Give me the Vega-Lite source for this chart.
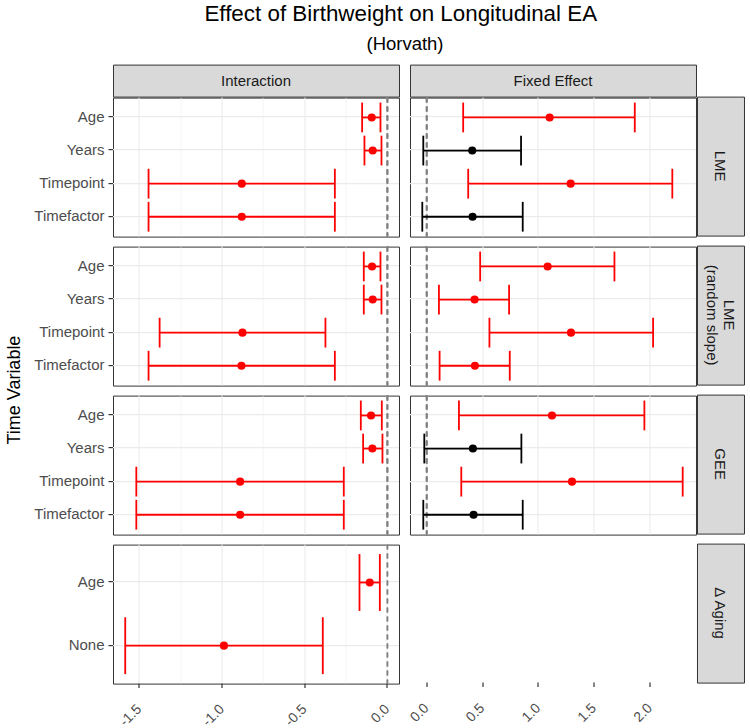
{
  "$schema": "https://vega.github.io/schema/vega-lite/v6.json",
  "padding": {"left": 0, "top": 2.6, "right": 0, "bottom": 0},
  "background": "white",
  "datasets": {
    "effects": [
      {"model": "LME", "type": "Interaction", "var": "Age", "est": -0.095, "lo": -0.153, "hi": -0.042, "sig": "yes"},
      {"model": "LME", "type": "Interaction", "var": "Years", "est": -0.089, "lo": -0.139, "hi": -0.036, "sig": "yes"},
      {"model": "LME", "type": "Interaction", "var": "Timepoint", "est": -0.881, "lo": -1.445, "hi": -0.318, "sig": "yes"},
      {"model": "LME", "type": "Interaction", "var": "Timefactor", "est": -0.881, "lo": -1.445, "hi": -0.318, "sig": "yes"},
      {"model": "LME (random slope)", "type": "Interaction", "var": "Age", "est": -0.093, "lo": -0.143, "hi": -0.042, "sig": "yes"},
      {"model": "LME (random slope)", "type": "Interaction", "var": "Years", "est": -0.089, "lo": -0.143, "hi": -0.036, "sig": "yes"},
      {"model": "LME (random slope)", "type": "Interaction", "var": "Timepoint", "est": -0.877, "lo": -1.378, "hi": -0.375, "sig": "yes"},
      {"model": "LME (random slope)", "type": "Interaction", "var": "Timefactor", "est": -0.883, "lo": -1.445, "hi": -0.318, "sig": "yes"},
      {"model": "GEE", "type": "Interaction", "var": "Age", "est": -0.099, "lo": -0.161, "hi": -0.034, "sig": "yes"},
      {"model": "GEE", "type": "Interaction", "var": "Years", "est": -0.091, "lo": -0.147, "hi": -0.030, "sig": "yes"},
      {"model": "GEE", "type": "Interaction", "var": "Timepoint", "est": -0.891, "lo": -1.519, "hi": -0.264, "sig": "yes"},
      {"model": "GEE", "type": "Interaction", "var": "Timefactor", "est": -0.891, "lo": -1.519, "hi": -0.264, "sig": "yes"},
      {"model": "ΔAging", "type": "Interaction", "var": "Age", "est": -0.107, "lo": -0.169, "hi": -0.046, "sig": "yes"},
      {"model": "ΔAging", "type": "Interaction", "var": "None", "est": -0.989, "lo": -1.586, "hi": -0.391, "sig": "yes"},
      {"model": "LME", "type": "Fixed Effect", "var": "Age", "est": 1.101, "lo": 0.327, "hi": 1.863, "sig": "yes"},
      {"model": "LME", "type": "Fixed Effect", "var": "Years", "est": 0.408, "lo": -0.030, "hi": 0.845, "sig": "no"},
      {"model": "LME", "type": "Fixed Effect", "var": "Timepoint", "est": 1.289, "lo": 0.372, "hi": 2.199, "sig": "yes"},
      {"model": "LME", "type": "Fixed Effect", "var": "Timefactor", "est": 0.411, "lo": -0.039, "hi": 0.860, "sig": "no"},
      {"model": "LME (random slope)", "type": "Fixed Effect", "var": "Age", "est": 1.083, "lo": 0.479, "hi": 1.681, "sig": "yes"},
      {"model": "LME (random slope)", "type": "Fixed Effect", "var": "Years", "est": 0.429, "lo": 0.110, "hi": 0.738, "sig": "yes"},
      {"model": "LME (random slope)", "type": "Fixed Effect", "var": "Timepoint", "est": 1.292, "lo": 0.562, "hi": 2.027, "sig": "yes"},
      {"model": "LME (random slope)", "type": "Fixed Effect", "var": "Timefactor", "est": 0.432, "lo": 0.116, "hi": 0.744, "sig": "yes"},
      {"model": "GEE", "type": "Fixed Effect", "var": "Age", "est": 1.122, "lo": 0.289, "hi": 1.949, "sig": "yes"},
      {"model": "GEE", "type": "Fixed Effect", "var": "Years", "est": 0.414, "lo": -0.021, "hi": 0.848, "sig": "no"},
      {"model": "GEE", "type": "Fixed Effect", "var": "Timepoint", "est": 1.301, "lo": 0.310, "hi": 2.292, "sig": "yes"},
      {"model": "GEE", "type": "Fixed Effect", "var": "Timefactor", "est": 0.420, "lo": -0.030, "hi": 0.860, "sig": "no"}
    ],
    "labels": [
      {"role": "col", "key": "Interaction", "label": "Interaction"},
      {"role": "col", "key": "Fixed Effect", "label": "Fixed Effect"},
      {"role": "row", "key": "LME", "label": "LME"},
      {"role": "row", "key": "LME (random slope)", "label": "LME\n(random slope)"},
      {"role": "row", "key": "GEE", "label": "GEE"},
      {"role": "row", "key": "ΔAging", "label": "Δ Aging"},
      {"role": "ytitle", "key": "y", "label": "Time Variable"}
    ]
  },
  "data": {"name": "effects"},
  "title": {
    "text": "Effect of Birthweight on Longitudinal EA",
    "fontSize": 22.4,
    "fontWeight": "normal",
    "color": "#000000",
    "anchor": "middle",
    "dx": 28.5,
    "offset": 9
  },
  "spacing": -2,
  "hconcat": [
    {
      "width": 35, "height": 618,
      "view": {"stroke": null},
      "data": {"name": "labels"},
      "transform": [{"filter": "datum.role === 'ytitle'"}],
      "mark": {"type": "text", "angle": 270, "fontSize": 18, "color": "#000000", "dx": -16.5, "dy": -2.5},
      "encoding": {"text": {"field": "label", "type": "nominal"}}
    },
    {
      "title": {"text": "(Horvath)", "fontSize": 18.5, "fontWeight": "normal", "color": "#000000", "anchor": "middle", "frame": "group", "dx": 292, "offset": 11},
      "spacing": 7,
      "hconcat": [
        {
          "spacing": 6,
          "vconcat": [
            {
              "spacing": -2,
              "vconcat": [
                {
                  "width": 286, "height": 32,
                  "view": {"fill": "#d9d9d9", "stroke": "#333333", "strokeWidth": 1},
                  "data": {"name": "labels"},
                  "transform": [{"filter": "datum.role === 'col' && datum.key === 'Interaction'"}],
                  "mark": {"type": "text", "fontSize": 15, "color": "#1a1a1a"},
                  "encoding": {"text": {"field": "label", "type": "nominal"}}
                },
                {
                  "width": 286, "height": 139,
                  "transform": [{"filter": "datum.model === 'LME' && datum.type === 'Interaction'"}],
                  "layer": [
                    {"mark": {"type": "rule", "color": "#7f7f7f", "strokeDash": [5, 4], "strokeWidth": 1.5},
                     "encoding": {"x": {"datum": 0, "type": "quantitative", "scale": {"domain": [-1.66, 0.07], "nice": false, "zero": false},
                       "axis": {"title": null, "values": [-1.5, -1.25, -1, -0.75, -0.5, -0.25, 0], "labels": false, "ticks": false, "domain": false, "grid": true, "gridColor": "#ebebeb", "gridWidth": {"condition": {"test": "abs(datum.value * 2 - round(datum.value * 2)) < 0.001", "value": 1.1}, "value": 0.55}}}}},
                    {"mark": {"type": "rule", "strokeWidth": 1.8},
                     "encoding": {"x": {"field": "lo", "type": "quantitative", "title": null, "scale": {"domain": [-1.66, 0.07], "nice": false, "zero": false}}, "x2": {"field": "hi"},
                       "y": {"field": "var", "type": "nominal", "title": null, "sort": ["Age", "Years", "Timepoint", "Timefactor"], "scale": {"type": "band", "paddingInner": 0, "paddingOuter": 0.1},
                         "axis": {"title": null, "domain": false, "ticks": true, "tickSize": 4.5, "tickWidth": 1.2, "tickColor": "#333333", "labelPadding": 4, "labelFontSize": 15, "labelColor": "#4d4d4d", "grid": true, "gridColor": "#ebebeb", "gridWidth": 1.1, "tickBand": "center"}},
                       "color": {"field": "sig", "type": "nominal", "scale": {"domain": ["no", "yes"], "range": ["#000000", "#ff0000"]}, "legend": null}}},
                    {"mark": {"type": "rule", "strokeWidth": 1.8},
                     "encoding": {"x": {"field": "lo", "type": "quantitative", "title": null, "scale": {"domain": [-1.66, 0.07], "nice": false, "zero": false}},
                       "y": {"field": "var", "type": "nominal", "title": null, "bandPosition": 0.05, "sort": ["Age", "Years", "Timepoint", "Timefactor"], "scale": {"type": "band", "paddingInner": 0, "paddingOuter": 0.1}},
                       "y2": {"field": "var", "bandPosition": 0.95},
                       "color": {"field": "sig", "type": "nominal", "scale": {"domain": ["no", "yes"], "range": ["#000000", "#ff0000"]}, "legend": null}}},
                    {"mark": {"type": "rule", "strokeWidth": 1.8},
                     "encoding": {"x": {"field": "hi", "type": "quantitative", "title": null, "scale": {"domain": [-1.66, 0.07], "nice": false, "zero": false}},
                       "y": {"field": "var", "type": "nominal", "title": null, "bandPosition": 0.05, "sort": ["Age", "Years", "Timepoint", "Timefactor"], "scale": {"type": "band", "paddingInner": 0, "paddingOuter": 0.1}},
                       "y2": {"field": "var", "bandPosition": 0.95},
                       "color": {"field": "sig", "type": "nominal", "scale": {"domain": ["no", "yes"], "range": ["#000000", "#ff0000"]}, "legend": null}}},
                    {"mark": {"type": "circle", "size": 66, "opacity": 1},
                     "encoding": {"x": {"field": "est", "type": "quantitative", "title": null, "scale": {"domain": [-1.66, 0.07], "nice": false, "zero": false}},
                       "y": {"field": "var", "type": "nominal", "title": null, "sort": ["Age", "Years", "Timepoint", "Timefactor"], "scale": {"type": "band", "paddingInner": 0, "paddingOuter": 0.1}},
                       "color": {"field": "sig", "type": "nominal", "scale": {"domain": ["no", "yes"], "range": ["#000000", "#ff0000"]}, "legend": null}}}
                  ]
                }
              ]
            },
            {
              "width": 286, "height": 139,
              "transform": [{"filter": "datum.model === 'LME (random slope)' && datum.type === 'Interaction'"}],
              "layer": [
                {"mark": {"type": "rule", "color": "#7f7f7f", "strokeDash": [5, 4], "strokeWidth": 1.5},
                 "encoding": {"x": {"datum": 0, "type": "quantitative", "scale": {"domain": [-1.66, 0.07], "nice": false, "zero": false},
                   "axis": {"title": null, "values": [-1.5, -1.25, -1, -0.75, -0.5, -0.25, 0], "labels": false, "ticks": false, "domain": false, "grid": true, "gridColor": "#ebebeb", "gridWidth": {"condition": {"test": "abs(datum.value * 2 - round(datum.value * 2)) < 0.001", "value": 1.1}, "value": 0.55}}}}},
                {"mark": {"type": "rule", "strokeWidth": 1.8},
                 "encoding": {"x": {"field": "lo", "type": "quantitative", "title": null, "scale": {"domain": [-1.66, 0.07], "nice": false, "zero": false}}, "x2": {"field": "hi"},
                   "y": {"field": "var", "type": "nominal", "title": null, "sort": ["Age", "Years", "Timepoint", "Timefactor"], "scale": {"type": "band", "paddingInner": 0, "paddingOuter": 0.1},
                     "axis": {"title": null, "domain": false, "ticks": true, "tickSize": 4.5, "tickWidth": 1.2, "tickColor": "#333333", "labelPadding": 4, "labelFontSize": 15, "labelColor": "#4d4d4d", "grid": true, "gridColor": "#ebebeb", "gridWidth": 1.1, "tickBand": "center"}},
                   "color": {"field": "sig", "type": "nominal", "scale": {"domain": ["no", "yes"], "range": ["#000000", "#ff0000"]}, "legend": null}}},
                {"mark": {"type": "rule", "strokeWidth": 1.8},
                 "encoding": {"x": {"field": "lo", "type": "quantitative", "title": null, "scale": {"domain": [-1.66, 0.07], "nice": false, "zero": false}},
                   "y": {"field": "var", "type": "nominal", "title": null, "bandPosition": 0.05, "sort": ["Age", "Years", "Timepoint", "Timefactor"], "scale": {"type": "band", "paddingInner": 0, "paddingOuter": 0.1}},
                   "y2": {"field": "var", "bandPosition": 0.95},
                   "color": {"field": "sig", "type": "nominal", "scale": {"domain": ["no", "yes"], "range": ["#000000", "#ff0000"]}, "legend": null}}},
                {"mark": {"type": "rule", "strokeWidth": 1.8},
                 "encoding": {"x": {"field": "hi", "type": "quantitative", "title": null, "scale": {"domain": [-1.66, 0.07], "nice": false, "zero": false}},
                   "y": {"field": "var", "type": "nominal", "title": null, "bandPosition": 0.05, "sort": ["Age", "Years", "Timepoint", "Timefactor"], "scale": {"type": "band", "paddingInner": 0, "paddingOuter": 0.1}},
                   "y2": {"field": "var", "bandPosition": 0.95},
                   "color": {"field": "sig", "type": "nominal", "scale": {"domain": ["no", "yes"], "range": ["#000000", "#ff0000"]}, "legend": null}}},
                {"mark": {"type": "circle", "size": 66, "opacity": 1},
                 "encoding": {"x": {"field": "est", "type": "quantitative", "title": null, "scale": {"domain": [-1.66, 0.07], "nice": false, "zero": false}},
                   "y": {"field": "var", "type": "nominal", "title": null, "sort": ["Age", "Years", "Timepoint", "Timefactor"], "scale": {"type": "band", "paddingInner": 0, "paddingOuter": 0.1}},
                   "color": {"field": "sig", "type": "nominal", "scale": {"domain": ["no", "yes"], "range": ["#000000", "#ff0000"]}, "legend": null}}}
              ]
            },
            {
              "width": 286, "height": 139,
              "transform": [{"filter": "datum.model === 'GEE' && datum.type === 'Interaction'"}],
              "layer": [
                {"mark": {"type": "rule", "color": "#7f7f7f", "strokeDash": [5, 4], "strokeWidth": 1.5},
                 "encoding": {"x": {"datum": 0, "type": "quantitative", "scale": {"domain": [-1.66, 0.07], "nice": false, "zero": false},
                   "axis": {"title": null, "values": [-1.5, -1.25, -1, -0.75, -0.5, -0.25, 0], "labels": false, "ticks": false, "domain": false, "grid": true, "gridColor": "#ebebeb", "gridWidth": {"condition": {"test": "abs(datum.value * 2 - round(datum.value * 2)) < 0.001", "value": 1.1}, "value": 0.55}}}}},
                {"mark": {"type": "rule", "strokeWidth": 1.8},
                 "encoding": {"x": {"field": "lo", "type": "quantitative", "title": null, "scale": {"domain": [-1.66, 0.07], "nice": false, "zero": false}}, "x2": {"field": "hi"},
                   "y": {"field": "var", "type": "nominal", "title": null, "sort": ["Age", "Years", "Timepoint", "Timefactor"], "scale": {"type": "band", "paddingInner": 0, "paddingOuter": 0.1},
                     "axis": {"title": null, "domain": false, "ticks": true, "tickSize": 4.5, "tickWidth": 1.2, "tickColor": "#333333", "labelPadding": 4, "labelFontSize": 15, "labelColor": "#4d4d4d", "grid": true, "gridColor": "#ebebeb", "gridWidth": 1.1, "tickBand": "center"}},
                   "color": {"field": "sig", "type": "nominal", "scale": {"domain": ["no", "yes"], "range": ["#000000", "#ff0000"]}, "legend": null}}},
                {"mark": {"type": "rule", "strokeWidth": 1.8},
                 "encoding": {"x": {"field": "lo", "type": "quantitative", "title": null, "scale": {"domain": [-1.66, 0.07], "nice": false, "zero": false}},
                   "y": {"field": "var", "type": "nominal", "title": null, "bandPosition": 0.05, "sort": ["Age", "Years", "Timepoint", "Timefactor"], "scale": {"type": "band", "paddingInner": 0, "paddingOuter": 0.1}},
                   "y2": {"field": "var", "bandPosition": 0.95},
                   "color": {"field": "sig", "type": "nominal", "scale": {"domain": ["no", "yes"], "range": ["#000000", "#ff0000"]}, "legend": null}}},
                {"mark": {"type": "rule", "strokeWidth": 1.8},
                 "encoding": {"x": {"field": "hi", "type": "quantitative", "title": null, "scale": {"domain": [-1.66, 0.07], "nice": false, "zero": false}},
                   "y": {"field": "var", "type": "nominal", "title": null, "bandPosition": 0.05, "sort": ["Age", "Years", "Timepoint", "Timefactor"], "scale": {"type": "band", "paddingInner": 0, "paddingOuter": 0.1}},
                   "y2": {"field": "var", "bandPosition": 0.95},
                   "color": {"field": "sig", "type": "nominal", "scale": {"domain": ["no", "yes"], "range": ["#000000", "#ff0000"]}, "legend": null}}},
                {"mark": {"type": "circle", "size": 66, "opacity": 1},
                 "encoding": {"x": {"field": "est", "type": "quantitative", "title": null, "scale": {"domain": [-1.66, 0.07], "nice": false, "zero": false}},
                   "y": {"field": "var", "type": "nominal", "title": null, "sort": ["Age", "Years", "Timepoint", "Timefactor"], "scale": {"type": "band", "paddingInner": 0, "paddingOuter": 0.1}},
                   "color": {"field": "sig", "type": "nominal", "scale": {"domain": ["no", "yes"], "range": ["#000000", "#ff0000"]}, "legend": null}}}
              ]
            },
            {
              "width": 286, "height": 139,
              "transform": [{"filter": "datum.model === 'ΔAging' && datum.type === 'Interaction'"}],
              "layer": [
                {"mark": {"type": "rule", "color": "#7f7f7f", "strokeDash": [5, 4], "strokeWidth": 1.5},
                 "encoding": {"x": {"datum": 0, "type": "quantitative", "scale": {"domain": [-1.66, 0.07], "nice": false, "zero": false},
                   "axis": {"title": null, "values": [-1.5, -1.25, -1, -0.75, -0.5, -0.25, 0], "domain": false, "grid": true, "gridColor": "#ebebeb", "gridWidth": {"condition": {"test": "abs(datum.value * 2 - round(datum.value * 2)) < 0.001", "value": 1.1}, "value": 0.55},
                     "ticks": true, "tickSize": 4.5, "tickWidth": 1.2, "tickColor": "#333333", "tickOpacity": {"condition": {"test": "abs(datum.value * 2 - round(datum.value * 2)) < 0.001", "value": 1}, "value": 0},
                     "labelExpr": "abs(datum.value * 2 - round(datum.value * 2)) < 0.001 ? (datum.value < 0 ? '-' : '') + format(abs(datum.value), '.1f') : ''",
                     "labelAngle": -45, "labelAlign": "right", "labelBaseline": "middle", "labelPadding": 19, "labelFontSize": 14, "labelColor": "#4d4d4d", "labelOverlap": false, "labelFlush": false}}}},
                {"mark": {"type": "rule", "strokeWidth": 1.8},
                 "encoding": {"x": {"field": "lo", "type": "quantitative", "title": null, "scale": {"domain": [-1.66, 0.07], "nice": false, "zero": false}}, "x2": {"field": "hi"},
                   "y": {"field": "var", "type": "nominal", "title": null, "sort": ["Age", "None"], "scale": {"type": "band", "paddingInner": 0, "paddingOuter": 0.1},
                     "axis": {"title": null, "domain": false, "ticks": true, "tickSize": 4.5, "tickWidth": 1.2, "tickColor": "#333333", "labelPadding": 4, "labelFontSize": 15, "labelColor": "#4d4d4d", "grid": true, "gridColor": "#ebebeb", "gridWidth": 1.1, "tickBand": "center"}},
                   "color": {"field": "sig", "type": "nominal", "scale": {"domain": ["no", "yes"], "range": ["#000000", "#ff0000"]}, "legend": null}}},
                {"mark": {"type": "rule", "strokeWidth": 1.8},
                 "encoding": {"x": {"field": "lo", "type": "quantitative", "title": null, "scale": {"domain": [-1.66, 0.07], "nice": false, "zero": false}},
                   "y": {"field": "var", "type": "nominal", "title": null, "bandPosition": 0.05, "sort": ["Age", "None"], "scale": {"type": "band", "paddingInner": 0, "paddingOuter": 0.1}},
                   "y2": {"field": "var", "bandPosition": 0.95},
                   "color": {"field": "sig", "type": "nominal", "scale": {"domain": ["no", "yes"], "range": ["#000000", "#ff0000"]}, "legend": null}}},
                {"mark": {"type": "rule", "strokeWidth": 1.8},
                 "encoding": {"x": {"field": "hi", "type": "quantitative", "title": null, "scale": {"domain": [-1.66, 0.07], "nice": false, "zero": false}},
                   "y": {"field": "var", "type": "nominal", "title": null, "bandPosition": 0.05, "sort": ["Age", "None"], "scale": {"type": "band", "paddingInner": 0, "paddingOuter": 0.1}},
                   "y2": {"field": "var", "bandPosition": 0.95},
                   "color": {"field": "sig", "type": "nominal", "scale": {"domain": ["no", "yes"], "range": ["#000000", "#ff0000"]}, "legend": null}}},
                {"mark": {"type": "circle", "size": 66, "opacity": 1},
                 "encoding": {"x": {"field": "est", "type": "quantitative", "title": null, "scale": {"domain": [-1.66, 0.07], "nice": false, "zero": false}},
                   "y": {"field": "var", "type": "nominal", "title": null, "sort": ["Age", "None"], "scale": {"type": "band", "paddingInner": 0, "paddingOuter": 0.1}},
                   "color": {"field": "sig", "type": "nominal", "scale": {"domain": ["no", "yes"], "range": ["#000000", "#ff0000"]}, "legend": null}}}
              ]
            }
          ]
        },
        {
          "spacing": 6,
          "vconcat": [
            {
              "spacing": -2,
              "vconcat": [
                {
                  "width": 286, "height": 32,
                  "view": {"fill": "#d9d9d9", "stroke": "#333333", "strokeWidth": 1},
                  "data": {"name": "labels"},
                  "transform": [{"filter": "datum.role === 'col' && datum.key === 'Fixed Effect'"}],
                  "mark": {"type": "text", "fontSize": 15, "color": "#1a1a1a"},
                  "encoding": {"text": {"field": "label", "type": "nominal"}}
                },
                {
                  "width": 286, "height": 139,
                  "transform": [{"filter": "datum.model === 'LME' && datum.type === 'Fixed Effect'"}],
                  "layer": [
                    {"mark": {"type": "rule", "color": "#7f7f7f", "strokeDash": [5, 4], "strokeWidth": 1.5},
                     "encoding": {"x": {"datum": 0, "type": "quantitative", "scale": {"domain": [-0.149, 2.411], "nice": false, "zero": false},
                       "axis": {"title": null, "values": [0, 0.25, 0.5, 0.75, 1, 1.25, 1.5, 1.75, 2, 2.25], "labels": false, "ticks": false, "domain": false, "grid": true, "gridColor": "#ebebeb", "gridWidth": {"condition": {"test": "abs(datum.value * 2 - round(datum.value * 2)) < 0.001", "value": 1.1}, "value": 0.55}}}}},
                    {"mark": {"type": "rule", "strokeWidth": 1.8},
                     "encoding": {"x": {"field": "lo", "type": "quantitative", "title": null, "scale": {"domain": [-0.149, 2.411], "nice": false, "zero": false}}, "x2": {"field": "hi"},
                       "y": {"field": "var", "type": "nominal", "title": null, "sort": ["Age", "Years", "Timepoint", "Timefactor"], "scale": {"type": "band", "paddingInner": 0, "paddingOuter": 0.1},
                         "axis": {"title": null, "labels": false, "ticks": false, "domain": false, "grid": true, "gridColor": "#ebebeb", "gridWidth": 1.1, "tickBand": "center"}},
                       "color": {"field": "sig", "type": "nominal", "scale": {"domain": ["no", "yes"], "range": ["#000000", "#ff0000"]}, "legend": null}}},
                    {"mark": {"type": "rule", "strokeWidth": 1.8},
                     "encoding": {"x": {"field": "lo", "type": "quantitative", "title": null, "scale": {"domain": [-0.149, 2.411], "nice": false, "zero": false}},
                       "y": {"field": "var", "type": "nominal", "title": null, "bandPosition": 0.05, "sort": ["Age", "Years", "Timepoint", "Timefactor"], "scale": {"type": "band", "paddingInner": 0, "paddingOuter": 0.1}},
                       "y2": {"field": "var", "bandPosition": 0.95},
                       "color": {"field": "sig", "type": "nominal", "scale": {"domain": ["no", "yes"], "range": ["#000000", "#ff0000"]}, "legend": null}}},
                    {"mark": {"type": "rule", "strokeWidth": 1.8},
                     "encoding": {"x": {"field": "hi", "type": "quantitative", "title": null, "scale": {"domain": [-0.149, 2.411], "nice": false, "zero": false}},
                       "y": {"field": "var", "type": "nominal", "title": null, "bandPosition": 0.05, "sort": ["Age", "Years", "Timepoint", "Timefactor"], "scale": {"type": "band", "paddingInner": 0, "paddingOuter": 0.1}},
                       "y2": {"field": "var", "bandPosition": 0.95},
                       "color": {"field": "sig", "type": "nominal", "scale": {"domain": ["no", "yes"], "range": ["#000000", "#ff0000"]}, "legend": null}}},
                    {"mark": {"type": "circle", "size": 66, "opacity": 1},
                     "encoding": {"x": {"field": "est", "type": "quantitative", "title": null, "scale": {"domain": [-0.149, 2.411], "nice": false, "zero": false}},
                       "y": {"field": "var", "type": "nominal", "title": null, "sort": ["Age", "Years", "Timepoint", "Timefactor"], "scale": {"type": "band", "paddingInner": 0, "paddingOuter": 0.1}},
                       "color": {"field": "sig", "type": "nominal", "scale": {"domain": ["no", "yes"], "range": ["#000000", "#ff0000"]}, "legend": null}}}
                  ]
                }
              ]
            },
            {
              "width": 286, "height": 139,
              "transform": [{"filter": "datum.model === 'LME (random slope)' && datum.type === 'Fixed Effect'"}],
              "layer": [
                {"mark": {"type": "rule", "color": "#7f7f7f", "strokeDash": [5, 4], "strokeWidth": 1.5},
                 "encoding": {"x": {"datum": 0, "type": "quantitative", "scale": {"domain": [-0.149, 2.411], "nice": false, "zero": false},
                   "axis": {"title": null, "values": [0, 0.25, 0.5, 0.75, 1, 1.25, 1.5, 1.75, 2, 2.25], "labels": false, "ticks": false, "domain": false, "grid": true, "gridColor": "#ebebeb", "gridWidth": {"condition": {"test": "abs(datum.value * 2 - round(datum.value * 2)) < 0.001", "value": 1.1}, "value": 0.55}}}}},
                {"mark": {"type": "rule", "strokeWidth": 1.8},
                 "encoding": {"x": {"field": "lo", "type": "quantitative", "title": null, "scale": {"domain": [-0.149, 2.411], "nice": false, "zero": false}}, "x2": {"field": "hi"},
                   "y": {"field": "var", "type": "nominal", "title": null, "sort": ["Age", "Years", "Timepoint", "Timefactor"], "scale": {"type": "band", "paddingInner": 0, "paddingOuter": 0.1},
                     "axis": {"title": null, "labels": false, "ticks": false, "domain": false, "grid": true, "gridColor": "#ebebeb", "gridWidth": 1.1, "tickBand": "center"}},
                   "color": {"field": "sig", "type": "nominal", "scale": {"domain": ["no", "yes"], "range": ["#000000", "#ff0000"]}, "legend": null}}},
                {"mark": {"type": "rule", "strokeWidth": 1.8},
                 "encoding": {"x": {"field": "lo", "type": "quantitative", "title": null, "scale": {"domain": [-0.149, 2.411], "nice": false, "zero": false}},
                   "y": {"field": "var", "type": "nominal", "title": null, "bandPosition": 0.05, "sort": ["Age", "Years", "Timepoint", "Timefactor"], "scale": {"type": "band", "paddingInner": 0, "paddingOuter": 0.1}},
                   "y2": {"field": "var", "bandPosition": 0.95},
                   "color": {"field": "sig", "type": "nominal", "scale": {"domain": ["no", "yes"], "range": ["#000000", "#ff0000"]}, "legend": null}}},
                {"mark": {"type": "rule", "strokeWidth": 1.8},
                 "encoding": {"x": {"field": "hi", "type": "quantitative", "title": null, "scale": {"domain": [-0.149, 2.411], "nice": false, "zero": false}},
                   "y": {"field": "var", "type": "nominal", "title": null, "bandPosition": 0.05, "sort": ["Age", "Years", "Timepoint", "Timefactor"], "scale": {"type": "band", "paddingInner": 0, "paddingOuter": 0.1}},
                   "y2": {"field": "var", "bandPosition": 0.95},
                   "color": {"field": "sig", "type": "nominal", "scale": {"domain": ["no", "yes"], "range": ["#000000", "#ff0000"]}, "legend": null}}},
                {"mark": {"type": "circle", "size": 66, "opacity": 1},
                 "encoding": {"x": {"field": "est", "type": "quantitative", "title": null, "scale": {"domain": [-0.149, 2.411], "nice": false, "zero": false}},
                   "y": {"field": "var", "type": "nominal", "title": null, "sort": ["Age", "Years", "Timepoint", "Timefactor"], "scale": {"type": "band", "paddingInner": 0, "paddingOuter": 0.1}},
                   "color": {"field": "sig", "type": "nominal", "scale": {"domain": ["no", "yes"], "range": ["#000000", "#ff0000"]}, "legend": null}}}
              ]
            },
            {
              "width": 286, "height": 139,
              "transform": [{"filter": "datum.model === 'GEE' && datum.type === 'Fixed Effect'"}],
              "layer": [
                {"mark": {"type": "rule", "color": "#7f7f7f", "strokeDash": [5, 4], "strokeWidth": 1.5},
                 "encoding": {"x": {"datum": 0, "type": "quantitative", "scale": {"domain": [-0.149, 2.411], "nice": false, "zero": false},
                   "axis": {"title": null, "values": [0, 0.25, 0.5, 0.75, 1, 1.25, 1.5, 1.75, 2, 2.25], "labels": false, "ticks": false, "domain": false, "grid": true, "gridColor": "#ebebeb", "gridWidth": {"condition": {"test": "abs(datum.value * 2 - round(datum.value * 2)) < 0.001", "value": 1.1}, "value": 0.55}}}}},
                {"mark": {"type": "rule", "strokeWidth": 1.8},
                 "encoding": {"x": {"field": "lo", "type": "quantitative", "title": null, "scale": {"domain": [-0.149, 2.411], "nice": false, "zero": false}}, "x2": {"field": "hi"},
                   "y": {"field": "var", "type": "nominal", "title": null, "sort": ["Age", "Years", "Timepoint", "Timefactor"], "scale": {"type": "band", "paddingInner": 0, "paddingOuter": 0.1},
                     "axis": {"title": null, "labels": false, "ticks": false, "domain": false, "grid": true, "gridColor": "#ebebeb", "gridWidth": 1.1, "tickBand": "center"}},
                   "color": {"field": "sig", "type": "nominal", "scale": {"domain": ["no", "yes"], "range": ["#000000", "#ff0000"]}, "legend": null}}},
                {"mark": {"type": "rule", "strokeWidth": 1.8},
                 "encoding": {"x": {"field": "lo", "type": "quantitative", "title": null, "scale": {"domain": [-0.149, 2.411], "nice": false, "zero": false}},
                   "y": {"field": "var", "type": "nominal", "title": null, "bandPosition": 0.05, "sort": ["Age", "Years", "Timepoint", "Timefactor"], "scale": {"type": "band", "paddingInner": 0, "paddingOuter": 0.1}},
                   "y2": {"field": "var", "bandPosition": 0.95},
                   "color": {"field": "sig", "type": "nominal", "scale": {"domain": ["no", "yes"], "range": ["#000000", "#ff0000"]}, "legend": null}}},
                {"mark": {"type": "rule", "strokeWidth": 1.8},
                 "encoding": {"x": {"field": "hi", "type": "quantitative", "title": null, "scale": {"domain": [-0.149, 2.411], "nice": false, "zero": false}},
                   "y": {"field": "var", "type": "nominal", "title": null, "bandPosition": 0.05, "sort": ["Age", "Years", "Timepoint", "Timefactor"], "scale": {"type": "band", "paddingInner": 0, "paddingOuter": 0.1}},
                   "y2": {"field": "var", "bandPosition": 0.95},
                   "color": {"field": "sig", "type": "nominal", "scale": {"domain": ["no", "yes"], "range": ["#000000", "#ff0000"]}, "legend": null}}},
                {"mark": {"type": "circle", "size": 66, "opacity": 1},
                 "encoding": {"x": {"field": "est", "type": "quantitative", "title": null, "scale": {"domain": [-0.149, 2.411], "nice": false, "zero": false}},
                   "y": {"field": "var", "type": "nominal", "title": null, "sort": ["Age", "Years", "Timepoint", "Timefactor"], "scale": {"type": "band", "paddingInner": 0, "paddingOuter": 0.1}},
                   "color": {"field": "sig", "type": "nominal", "scale": {"domain": ["no", "yes"], "range": ["#000000", "#ff0000"]}, "legend": null}}}
              ]
            },
            {
              "width": 286, "height": 139,
              "view": {"stroke": "transparent", "strokeWidth": 1},
              "transform": [{"filter": "datum.model === 'ΔAging' && datum.type === 'Fixed Effect'"}],
              "mark": {"type": "rule"},
              "encoding": {"x": {"field": "est", "type": "quantitative", "title": null, "scale": {"domain": [-0.149, 2.411], "nice": false, "zero": false},
                "axis": {"title": null, "values": [0, 0.5, 1, 1.5, 2], "domain": false, "grid": false,
                  "ticks": true, "tickSize": 4.5, "tickWidth": 1.2, "tickColor": "#333333",
                  "labelExpr": "(datum.value < 0 ? '-' : '') + format(abs(datum.value), '.1f')",
                  "labelAngle": -45, "labelAlign": "right", "labelBaseline": "middle", "labelPadding": 19, "labelFontSize": 14, "labelColor": "#4d4d4d", "labelOverlap": false, "labelFlush": false}}}
            }
          ]
        }
      ]
    },
    {
      "spacing": 8,
      "vconcat": [
        {
          "width": 47, "height": 22,
          "view": {"stroke": "transparent", "strokeWidth": 1},
          "data": {"name": "labels"},
          "transform": [{"filter": "datum.role === 'none'"}],
          "mark": {"type": "text"},
          "encoding": {"text": {"field": "label", "type": "nominal"}}
        },
        {
          "width": 47, "height": 139,
          "view": {"fill": "#d9d9d9", "stroke": "#333333", "strokeWidth": 1},
          "data": {"name": "labels"},
          "transform": [{"filter": "datum.role === 'row' && datum.key === 'LME'"}],
          "mark": {"type": "text", "angle": 90, "fontSize": 15, "color": "#1a1a1a"},
          "encoding": {"text": {"field": "label", "type": "nominal"}}
        },
        {
          "width": 47, "height": 139,
          "view": {"fill": "#d9d9d9", "stroke": "#333333", "strokeWidth": 1},
          "data": {"name": "labels"},
          "transform": [{"filter": "datum.role === 'row' && datum.key === 'LME (random slope)'"}],
          "mark": {"type": "text", "angle": 90, "fontSize": 15, "color": "#1a1a1a", "lineBreak": "\n", "lineHeight": 18, "dy": -9},
          "encoding": {"text": {"field": "label", "type": "nominal"}}
        },
        {
          "width": 47, "height": 139,
          "view": {"fill": "#d9d9d9", "stroke": "#333333", "strokeWidth": 1},
          "data": {"name": "labels"},
          "transform": [{"filter": "datum.role === 'row' && datum.key === 'GEE'"}],
          "mark": {"type": "text", "angle": 90, "fontSize": 15, "color": "#1a1a1a"},
          "encoding": {"text": {"field": "label", "type": "nominal"}}
        },
        {
          "width": 47, "height": 139,
          "view": {"fill": "#d9d9d9", "stroke": "#333333", "strokeWidth": 1},
          "data": {"name": "labels"},
          "transform": [{"filter": "datum.role === 'row' && datum.key === 'ΔAging'"}],
          "mark": {"type": "text", "angle": 90, "fontSize": 15, "color": "#1a1a1a"},
          "encoding": {"text": {"field": "label", "type": "nominal"}}
        }
      ]
    }
  ],
  "config": {
    "font": "Liberation Sans",
    "view": {"stroke": "#333333", "strokeWidth": 1},
    "axis": {"labelFont": "Liberation Sans", "titleFont": "Liberation Sans", "translate": 0},
    "title": {"font": "Liberation Sans", "subtitleFont": "Liberation Sans"}
  }
}
